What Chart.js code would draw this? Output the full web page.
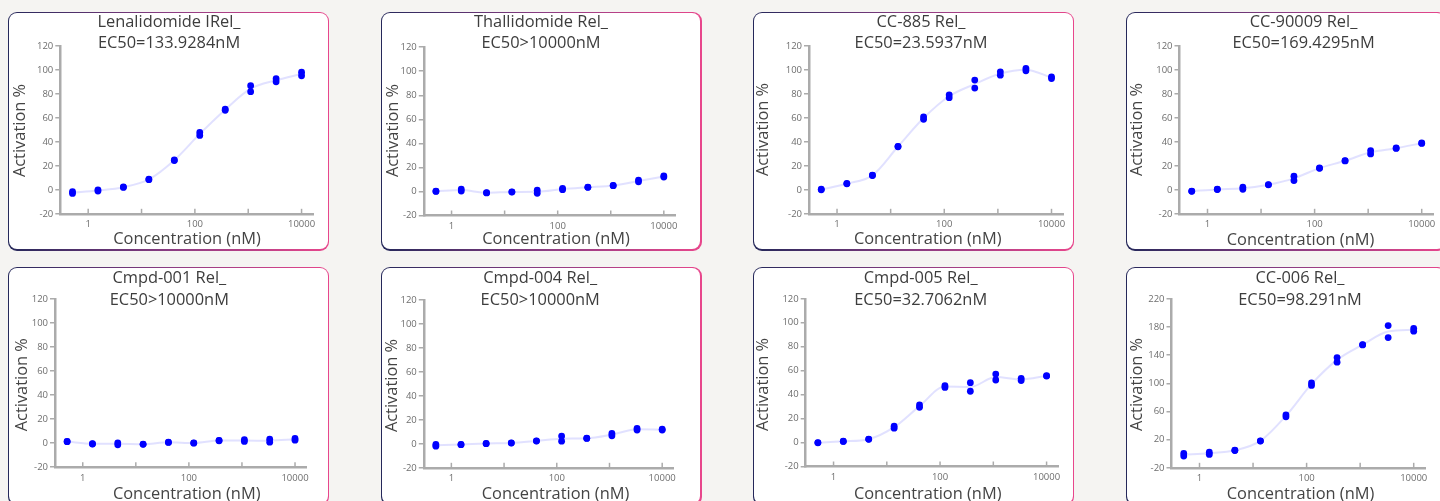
<!DOCTYPE html>
<html><head><meta charset="utf-8">
<script src="https://cdn.jsdelivr.net/npm/chart.js@4.4.1/dist/chart.umd.min.js"></script>
<style>
html,body{margin:0;padding:0;width:1440px;height:501px;overflow:hidden;background:#f5f4f2;}
.panel{position:absolute;width:321px;height:239px;border-radius:9px;background:linear-gradient(90deg,#25285a 0%,#8a3c82 50%,#e8468c 100%);}
.panel .inner{position:absolute;left:1.3px;top:1.3px;right:1.3px;bottom:1.3px;background:#fff;border-radius:8px;}
.panel canvas{position:absolute;left:0;top:0;}
</style></head><body>
<script>
// ---- data ----
const concentrations = [0.508, 1.524, 4.572, 13.72, 41.15, 123.5, 370.4, 1111, 3333, 10000];
const xTickValues = [1, 10, 100, 1000, 10000];
const xTickLabels = ['1', '', '100', '', '10000'];
const yTickValuesStd = [-20, 0, 20, 40, 60, 80, 100, 120];
const yTickLabelsStd = ['-20', '0', '20', '40', '60', '80', '100', '120'];
const yTickValuesWide = [-20, 0, 20, 40, 60, 80, 100, 120, 140, 160, 180, 200, 220];
const yTickLabelsWide = ['-20', '', '20', '', '60', '', '100', '', '140', '', '180', '', '220'];

const compoundNames = ['Lenalidomide IRel_', 'Thallidomide Rel_', 'CC-885 Rel_', 'CC-90009 Rel_',
                       'Cmpd-001 Rel_', 'Cmpd-004 Rel_', 'Cmpd-005 Rel_', 'CC-006 Rel_'];
const ec50Labels = ['EC50=133.9284nM', 'EC50>10000nM', 'EC50=23.5937nM', 'EC50=169.4295nM',
                    'EC50>10000nM', 'EC50>10000nM', 'EC50=32.7062nM', 'EC50=98.291nM'];

const lenalidomideA = [-1.5, 0, 2.5, 9, 25, 48, 67.5, 87, 92.8, 98.3];
const lenalidomideB = [-3, -1, 2, 8.5, 24.5, 45.5, 66.5, 82, 90.3, 95.3];
const thallidomideA = [0, 2, -1, -0.3, 1, 2.5, 3.6, 5, 9.5, 13];
const thallidomideB = [0.3, 0.3, -1.2, -0.5, -1.5, 1.5, 3.4, 4.8, 8, 12];
const cc885A = [0.5, 5.3, 12.2, 36.4, 61, 79.4, 91.7, 98.6, 101.4, 94.4];
const cc885B = [0, 5, 12, 36, 59, 77, 85, 95.8, 99.4, 93];
const cc90009A = [-1, 0.5, 2.2, 4.4, 11.4, 18.3, 24.4, 32.8, 35, 39.2];
const cc90009B = [-1.2, 0.3, 0.5, 4.2, 7.8, 18, 24.2, 30, 34.6, 38.8];
const cmpd001A = [1.4, -0.5, 0.3, -0.8, 0.8, 0.3, 2.2, 2.8, 3.3, 3.9];
const cmpd001B = [1.2, -0.7, -1.4, -1, 0.6, 0, 2, 1.4, 0.8, 2.5];
const cmpd004A = [-0.5, -0.5, 0.3, 0.8, 2.5, 6.4, 4.7, 8.6, 12.8, 12.2];
const cmpd004B = [-2, -0.7, 0.1, 0.6, 2.3, 2.2, 4.5, 6.7, 11.4, 11.4];
const cmpd005A = [0, 1.1, 2.9, 13.6, 31.4, 47.5, 50, 57.2, 53.6, 55.8];
const cmpd005B = [-0.2, 0.9, 2.7, 12, 29.4, 46, 42.8, 52.2, 51.7, 55.5];
const cc006A = [0.4, 2.2, 5, 18.3, 55.3, 100.5, 136.5, 155, 182, 178];
const cc006B = [-3.4, -1, 4.6, 18, 52.4, 97, 130, 154.5, 165, 174];

const replicatesA = [lenalidomideA, thallidomideA, cc885A, cc90009A, cmpd001A, cmpd004A, cmpd005A, cc006A];
const replicatesB = [lenalidomideB, thallidomideB, cc885B, cc90009B, cmpd001B, cmpd004B, cmpd005B, cc006B];
const yRanges = [[-20,120],[-20,120],[-20,120],[-20,120],[-20,120],[-20,120],[-20,120],[-20,220]];

// ---- layout (page coordinates) ----
const panelLayouts = [
 {left:8,     top:11.5,  plot:[60.3,45.7,313.3,213.3],  title:[169,21.7,42.7],    yTitle:[20,130],     xTitle:[187,239.3]},
 {left:380.5, top:11.5,  plot:[423.3,46.7,675,215],     title:[540.5,21.7,42.7],  yTitle:[393.3,130],  xTitle:[555.5,239.3]},
 {left:753,   top:11.5,  plot:[809,45.7,1063.3,213.3],  title:[921,21.7,43],      yTitle:[763.3,129],  xTitle:[927.7,239.3]},
 {left:1125.5,top:11.5,  plot:[1179,45.7,1433,213.3],   title:[1303,21.7,43],     yTitle:[1136.7,129], xTitle:[1300,239.7]},
 {left:8,     top:266.5, plot:[55,298.3,306.7,466.7],   title:[169.3,278.3,300],  yTitle:[22.7,384.2], xTitle:[186.7,494.3]},
 {left:380.5, top:266.5, plot:[423.3,299.3,673.3,467.3],title:[539.7,278.3,300],  yTitle:[391.7,385],  xTitle:[555,494.3]},
 {left:753,   top:266.5, plot:[805.7,298.3,1058.3,466], title:[920.7,278.3,300],  yTitle:[763.3,384],  xTitle:[927.7,494.3]},
 {left:1125.5,top:266.5, plot:[1171,298.3,1425,467.3],  title:[1299.5,278.3,300], yTitle:[1136.7,384], xTitle:[1300,494.3]}
];
const PW = 321, PH = 239;
const FONT = "'Open Sans', 'Noto Sans', sans-serif";
const AXIS_COLOR = '#ababab';

function makePanel(i) {
  const L = panelLayouts[i];
  const div = document.createElement('div');
  div.className = 'panel';
  div.style.left = L.left + 'px';
  div.style.top = L.top + 'px';
  const inner = document.createElement('div');
  inner.className = 'inner';
  div.appendChild(inner);
  const cv = document.createElement('canvas');
  cv.width = PW; cv.height = PH;
  cv.style.width = PW + 'px'; cv.style.height = PH + 'px';
  div.appendChild(cv);
  document.body.appendChild(div);

  const [pl, pt, pr, pb] = L.plot.map((v, k) => v - (k % 2 === 0 ? L.left : L.top));
  const wide = yRanges[i][1] > 150;
  const yVals = wide ? yTickValuesWide : yTickValuesStd;
  const yLabs = wide ? yTickLabelsWide : yTickLabelsStd;
  const repA = replicatesA[i], repB = replicatesB[i];
  const meanCurve = concentrations.map((c, k) => ({x: c, y: (repA[k] + repB[k]) / 2}));

  const deco = {
    id: 'deco' + i,
    beforeDraw(chart) { chart.ctx.filter = 'blur(0.5px)'; },
    afterDatasetsDraw(chart) {
      const s = chart.scales.x, ctx = chart.ctx;
      ctx.save();
      ctx.strokeStyle = AXIS_COLOR; ctx.lineWidth = 1.5;
      s.ticks.forEach(t => {
        const px = s.getPixelForValue(t.value);
        ctx.beginPath(); ctx.moveTo(px, s.top); ctx.lineTo(px, s.top - 5); ctx.stroke();
      });
      ctx.restore();
    },
    afterDraw(chart) {
      const ctx = chart.ctx;
      ctx.save();
      ctx.filter = 'none';
      ctx.fillStyle = '#3d3d3d';
      ctx.textAlign = 'center'; ctx.textBaseline = 'middle';
      ctx.font = "16.4px " + FONT;
      ctx.fillText(compoundNames[i], L.title[0] - L.left, L.title[1] - L.top);
      ctx.fillText(ec50Labels[i], L.title[0] - L.left, L.title[2] - L.top);
      ctx.fillStyle = '#444';
      ctx.fillText('Concentration (nM)', L.xTitle[0] - L.left, L.xTitle[1] - L.top);
      ctx.translate(L.yTitle[0] - L.left, L.yTitle[1] - L.top);
      ctx.rotate(-Math.PI / 2);
      ctx.fillText('Activation %', 0, 0);
      ctx.restore();
    }
  };

  new Chart(cv, {
    type: 'scatter',
    data: {
      datasets: [
        {type: 'line', data: meanCurve, borderColor: 'rgba(205,205,255,0.6)', borderWidth: 2,
         pointRadius: 0, cubicInterpolationMode: 'monotone', fill: false, order: 3},
        {data: concentrations.map((c, k) => ({x: c, y: repA[k]})), backgroundColor: '#0000ff',
         borderWidth: 0, pointRadius: 3.4, order: 1},
        {data: concentrations.map((c, k) => ({x: c, y: repB[k]})), backgroundColor: '#0000ff',
         borderWidth: 0, pointRadius: 3.4, order: 2}
      ]
    },
    options: {
      responsive: false, animation: false, events: [],
      layout: {padding: {left: 0, top: pt, right: PW - pr, bottom: 0}},
      plugins: {legend: {display: false}, tooltip: {enabled: false}, title: {display: false}},
      scales: {
        x: {
          type: 'logarithmic', min: 0.316, max: 16600, position: 'bottom',
          grid: {display: false, drawTicks: false},
          border: {display: true, color: AXIS_COLOR, width: 2.5},
          ticks: {autoSkip: false, maxRotation: 0, padding: 5, color: '#6e6e6e',
                  font: {family: FONT, size: 9.5},
                  callback: (v) => { const k = xTickValues.indexOf(v); return k >= 0 ? xTickLabels[k] : ''; }},
          afterBuildTicks: (s) => { s.ticks = xTickValues.map(v => ({value: v})); },
          afterFit: (s) => { s.height = PH - pb; }
        },
        y: {
          min: yRanges[i][0], max: yRanges[i][1], position: 'left',
          grid: {drawOnChartArea: false, drawTicks: true, tickLength: 5, color: AXIS_COLOR, lineWidth: 1.5},
          border: {display: true, color: AXIS_COLOR, width: 2.5},
          ticks: {padding: 2, color: '#6e6e6e', font: {family: FONT, size: 9.5},
                  callback: (v) => { const k = yVals.indexOf(v); return k >= 0 ? yLabs[k] : ''; }},
          afterBuildTicks: (s) => { s.ticks = yVals.map(v => ({value: v})); },
          afterFit: (s) => { s.width = pl; }
        }
      }
    },
    plugins: [deco]
  });
}
for (let i = 0; i < 8; i++) makePanel(i);
</script>
</body></html>
